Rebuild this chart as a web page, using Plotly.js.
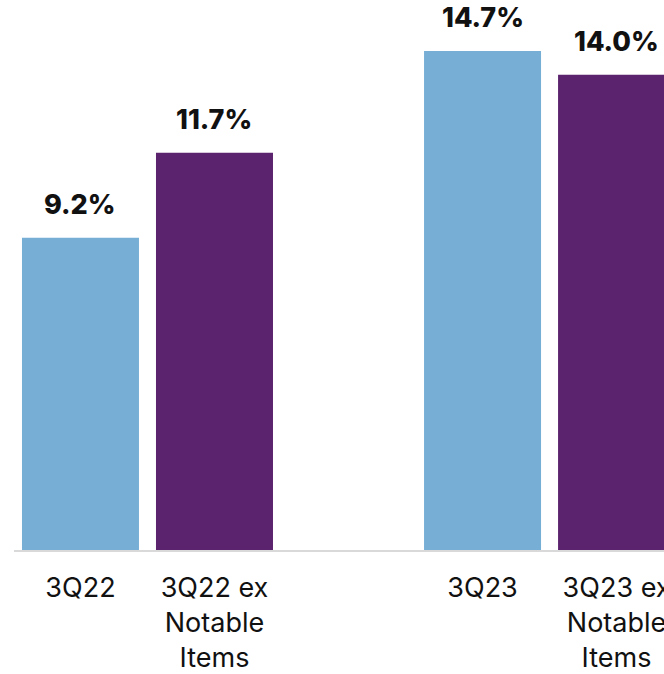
<!DOCTYPE html>
<html>
<head>
<meta charset="utf-8">
<script src="https://cdn.plot.ly/plotly-3.0.1.min.js"></script>
<style>html,body{margin:0;padding:0;background:#fff;}#chart{width:664px;height:674px;}</style>
</head>
<body>
<div id="chart"></div>
<script>
var categories = ["3Q22", "3Q22 ex<br>Notable<br>Items", "3Q23", "3Q23 ex<br>Notable<br>Items"];
var positions = [0, 1, 3, 4];
var values = [9.2, 11.7, 14.7, 14.0];
var labels = ["9.2%", "11.7%", "14.7%", "14.0%"];
var colors = ["#76AED5", "#5B236D", "#76AED5", "#5B236D"];

var trace = {
  type: "bar",
  x: positions,
  y: values,
  width: 0.873,
  marker: {color: colors},
  hoverinfo: "skip"
};

var annotations = positions.map(function (p, i) {
  return {
    x: p, y: values[i], xref: "x", yref: "y",
    text: labels[i], showarrow: false,
    yanchor: "bottom", yshift: 15,
    font: {family: "Inter, sans-serif", size: 27, color: "#111111", weight: 800}
  };
});

var layout = {
  width: 664, height: 674,
  margin: {l: 14, r: 0, t: 0, b: 124},
  paper_bgcolor: "#ffffff", plot_bgcolor: "#ffffff",
  showlegend: false,
  font: {family: "Inter, sans-serif", color: "#111111"},
  xaxis: {
    range: [-0.496, 4.354],
    tickvals: positions, ticktext: categories,
    showline: true, linecolor: "#d9d9d9", linewidth: 1.5,
    showgrid: false, zeroline: false, ticks: "",
    tickfont: {family: "Inter, sans-serif", size: 27, color: "#111111"},
    ticklabelstandoff: 13,
    ticklabeloverflow: "allow",
    fixedrange: true
  },
  yaxis: {
    range: [0, 16.2], visible: false, showgrid: false, zeroline: false, fixedrange: true
  },
  annotations: annotations
};

Plotly.newPlot("chart", [trace], layout, {displayModeBar: false, staticPlot: true});
</script>
</body>
</html>
